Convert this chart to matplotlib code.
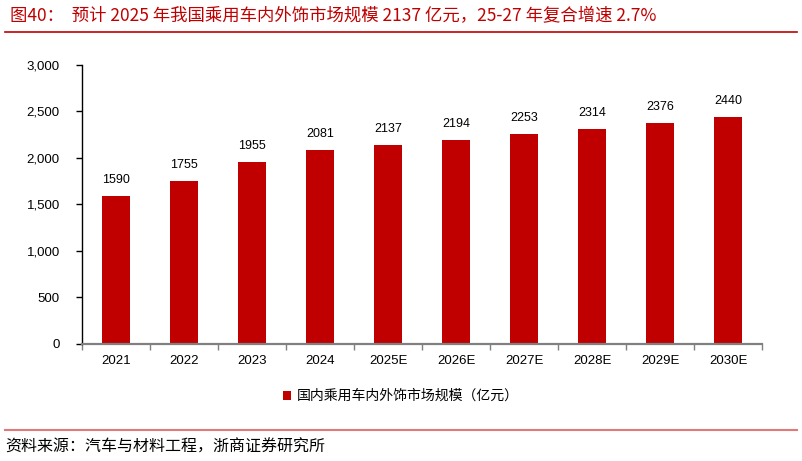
import numpy as np
import matplotlib as mpl
mpl.use('Agg')
import matplotlib.pyplot as plt
from matplotlib.lines import Line2D

plt.rcParams['font.family'] = ['Liberation Sans', 'Noto Sans CJK SC', 'DejaVu Sans']

years = ['2021', '2022', '2023', '2024', '2025E', '2026E', '2027E', '2028E', '2029E', '2030E']
market = [1590, 1755, 1955, 2081, 2137, 2194, 2253, 2314, 2376, 2440]
yticks = [0, 500, 1000, 1500, 2000, 2500, 3000]

RED = '#C00000'
CJK = ['Noto Sans CJK SC', 'DejaVu Sans']

fig = plt.figure(figsize=(8.02, 4.61), dpi=100)
ax = fig.add_axes([0.1022, 0.254, 0.848, 0.605])

xs = np.arange(len(years))
bars = ax.bar(xs, market, width=0.4, color=RED, label='国内乘用车内外饰市场规模（亿元）')
for x, v in zip(xs, market):
    ax.text(x, v + 110, str(v), ha='center', va='bottom', fontsize=9, color='#000000')

ax.set_xlim(-0.5, len(years) - 0.5)
ax.set_ylim(0, 3000)
ax.set_yticks(yticks)
ax.set_yticklabels([f'{v:,}' for v in yticks], fontsize=9.5)
ax.set_xticks(xs)
ax.set_xticklabels(years, fontsize=9.5)
ax.set_xticks(np.arange(-0.5, len(years)), minor=True)
ax.tick_params(axis='x', which='major', length=0, pad=8)
ax.tick_params(axis='x', which='minor', length=4, color='#808080', width=1)
ax.tick_params(axis='y', length=4, color='#000000', width=1, pad=12)
for s in ('top', 'right'):
    ax.spines[s].set_visible(False)
ax.spines['left'].set_color('#000000')
ax.spines['left'].set_linewidth(1)
ax.spines['bottom'].set_color('#808080')
ax.spines['bottom'].set_linewidth(1.6)

leg = fig.legend(handles=[bars], loc='center', bbox_to_anchor=(0.5, 0.141),
                 frameon=False, prop={'family': CJK, 'size': 10},
                 handlelength=0.6, handleheight=0.6, handletextpad=0.4)

fig.text(0.012, 0.966, '图40：  预计 2025 年我国乘用车内外饰市场规模 2137 亿元，25-27 年复合增速 2.7%',
         color=RED, fontsize=12.5, family=CJK, va='center', ha='left')
fig.add_artist(Line2D([0.006, 0.994], [0.930, 0.930], color=RED, linewidth=1.2))
fig.add_artist(Line2D([0.006, 0.994], [0.067, 0.067], color='#E07A7A', linewidth=1.5))
fig.text(0.006, 0.030, '资料来源：汽车与材料工程，浙商证券研究所',
         color='#000000', fontsize=11.5, family=CJK, va='center', ha='left')

fig.savefig('out.png', dpi=100, facecolor='white')
